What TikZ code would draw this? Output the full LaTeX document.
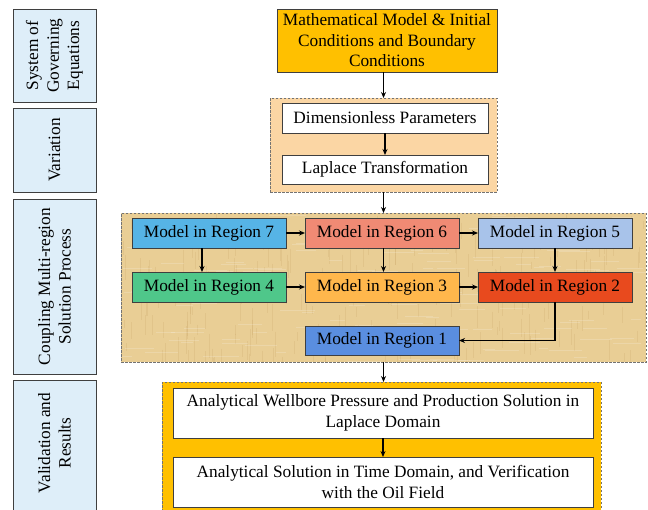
\documentclass[tikz,border=0pt]{standalone}
\usepackage{fontspec}
\setmainfont{Liberation Serif}
\usetikzlibrary{calc,arrows.meta}
\definecolor{gold}{HTML}{FFC000}
\definecolor{peach}{HTML}{FBD6A4}
\definecolor{papyrus}{HTML}{E9CE95}
\definecolor{grain}{HTML}{C7A463}
\definecolor{sidefill}{HTML}{DEEEF9}
\definecolor{edge}{HTML}{3F3F3F}
\definecolor{cseven}{HTML}{56B4E6}
\definecolor{csix}{HTML}{F08A74}
\definecolor{cfive}{HTML}{A8C3EA}
\definecolor{cfour}{HTML}{4FC78A}
\definecolor{cthree}{HTML}{FFB74C}
\definecolor{ctwo}{HTML}{E84A1E}
\definecolor{cone}{HTML}{5A8EE0}
\tikzset{
  every node/.style={font=\fontsize{17.3}{20.5}\selectfont, inner sep=0pt, outer sep=0pt},
  plainbox/.style={draw=edge, line width=0.9pt, align=center},
  sidebox/.style={draw=edge, line width=0.9pt, fill=sidefill},
  sidetext/.style={rotate=90, align=center},
  container/.style={draw=gray!90!black, line width=0.8pt, dash pattern=on 2.5pt off 1.5pt},
  regbox/.style={draw=edge, line width=0.9pt, minimum width=154, minimum height=30},
  arr/.style={line width=1.2pt, -{Stealth[length=6pt,width=5pt]}}
}
\begin{document}
\begin{tikzpicture}[x=1pt,y=-1pt]
\useasboundingbox (0,0) rectangle (648,509);
\clip (0,0) rectangle (648,509);
% side boxes
\node[sidebox, minimum width=83, minimum height=93] (lb1) at (54.5,55.5) {};
\node[sidetext] at (lb1.center) {System of\\Governing\\Equations};
\node[sidebox, minimum width=83, minimum height=84] (lb2) at (54.5,150) {};
\node[sidetext] at (lb2.center) {Variation};
\node[sidebox, minimum width=83, minimum height=175] (lb3) at (54.5,286.5) {};
\node[sidetext] at (lb3.center) {Coupling Multi-region\\Solution Process};
\node[sidebox, minimum width=83, minimum height=140] (lb4) at (54.5,450) {};
\node[sidetext] at (54.5,443) {Validation and\\Results};
% top box
\node[plainbox, fill=gold, minimum width=220, minimum height=63] (top) at (387,40.5)
  {Mathematical Model \& Initial\\Conditions and Boundary\\Conditions};
% variation container
\node[container, fill=peach, minimum width=227, minimum height=94] (varc) at (383.5,145) {};
\node[plainbox, fill=white, minimum width=206, minimum height=30] (dp) at (385,118) {Dimensionless Parameters};
\node[plainbox, fill=white, minimum width=206, minimum height=29] (lt) at (385,169.5) {Laplace Transformation};
% coupling container
\node[container, fill=papyrus, minimum width=525, minimum height=149] (cc) at (383.5,287.5) {};
\begin{scope}
\clip (121,213) rectangle (646,362);
\pgfmathsetseed{7}
\foreach \i in {1,...,260}{
  \pgfmathsetmacro{\xx}{121+525*rnd}
  \pgfmathsetmacro{\yy}{213+149*rnd}
  \pgfmathsetmacro{\ll}{6+22*rnd}
  \draw[line width=0.7pt, color=grain, opacity=0.22] (\xx,\yy) -- (\xx,\yy+\ll);
}
\foreach \i in {1,...,160}{
  \pgfmathsetmacro{\xx}{121+525*rnd}
  \pgfmathsetmacro{\yy}{213+149*rnd}
  \pgfmathsetmacro{\ll}{8+30*rnd}
  \draw[line width=1pt, color=white, opacity=0.18] (\xx,\yy) -- (\xx+\ll,\yy);
}
\end{scope}
\node[container, minimum width=525, minimum height=149] at (383.5,287.5) {};
\node[regbox, fill=cseven] (r7) at (209,233) {Model in Region 7};
\node[regbox, fill=csix] (r6) at (382,233) {Model in Region 6};
\node[regbox, fill=cfive] (r5) at (555,233) {Model in Region 5};
\node[regbox, fill=cfour] (r4) at (209,287) {Model in Region 4};
\node[regbox, fill=cthree] (r3) at (382,287) {Model in Region 3};
\node[regbox, fill=ctwo] (r2) at (555,287) {Model in Region 2};
\node[regbox, fill=cone, minimum height=29] (r1) at (382,340.5) {Model in Region 1};
% validation container
\node[container, fill=gold, minimum width=439, minimum height=135] (valc) at (381.5,449.5) {};
\node[plainbox, fill=white, minimum width=420, minimum height=50] (vb1) at (383,413)
  {Analytical Wellbore Pressure and Production Solution in\\Laplace Domain};
\node[plainbox, fill=white, minimum width=420, minimum height=50] (vb2) at (383,482)
  {Analytical Solution in Time Domain, and Verification\\with the Oil Field};
% arrows
\draw[arr] (top.south -| varc.north) -- (varc.north);
\draw[arr] (dp.south) -- (lt.north);
\draw[arr] (varc.south) -- (cc.north);
\draw[arr] (r7) -- (r6);
\draw[arr] (r6) -- (r5);
\draw[arr] (r4) -- (r3);
\draw[arr] (r3) -- (r2);
\draw[arr] ($(r7.south)+(-7,0)$) -- ($(r4.north)+(-7,0)$);
\draw[arr] (r6.south -| cc.north) -- (r3.north -| cc.north);
\draw[arr] (r5.south) -- (r4.north -| r5.south);
\draw[arr] (r2.south) |- (r1.east);
\draw[arr] (cc.south) -- (cc.south |- valc.north);
\draw[arr] (vb1.south) -- (vb2.north);
\end{tikzpicture}
\end{document}
